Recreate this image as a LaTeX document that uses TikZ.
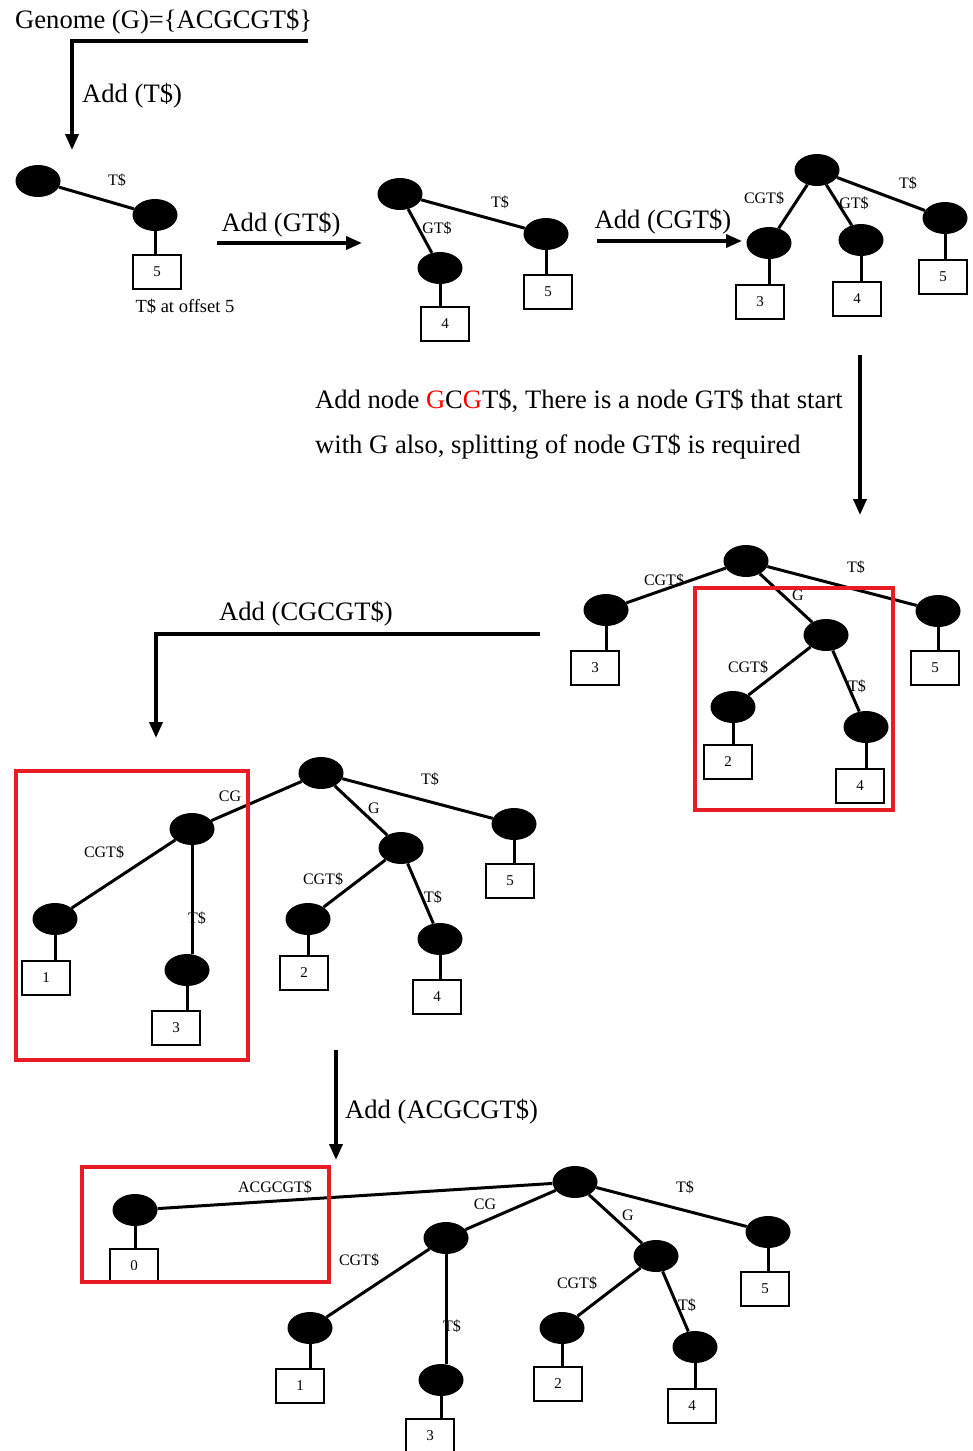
\documentclass[tikz,border=0pt]{standalone}
\usepackage{fontspec}
\setmainfont{Liberation Serif}
\usetikzlibrary{arrows.meta,shapes.geometric}
\definecolor{hlred}{RGB}{232,28,36}
\begin{document}
\begin{tikzpicture}[x=1pt,y=-1pt,
  leaf/.style={ellipse,fill=black,minimum width=45,minimum height=32,inner sep=0},
  idx/.style={draw,line width=1.8,minimum width=48,minimum height=34,inner sep=0,font=\fontsize{15}{16}\selectfont},
  edge/.style={line width=3},
  lbl/.style={font=\fontsize{16}{18}\selectfont,inner sep=0},
  big/.style={font=\fontsize{26.6}{30}\selectfont,inner sep=0},
  flow/.style={line width=3.6,-{Triangle[length=16,width=13]}},
  hl/.style={draw=hlred,line width=3.2}]
\useasboundingbox (0,0) rectangle (972,1451);
\fill[white] (0,0) rectangle (972,1451);
\newcommand{\hang}[2]{\draw[edge] (#1.south) -- (#1.south |- #2.north);}

% title
\node[big,anchor=west] (title) at (15,22) {Genome (G)=\{ACGCGT\$\}};
\coordinate (t1) at (308,41);
\coordinate (t2) at (72,41);
\coordinate (t3) at (72,150);
\draw[flow] (t1) -- (t2) -- (t3);
\node[big,anchor=west] (addT) at (82,96) {Add (T\$)};

% tree 1
\node[leaf] (a0) at (38,181) {};
\node[leaf] (a1) at (155,215) {};
\node[idx] (a1b) at (157,272) {5};
\draw[edge] (a0) -- (a1);
\hang{a1}{a1b}
\node[lbl] at (117,180) {T\$};
\node[lbl,font=\fontsize{18.5}{20}\selectfont] (off) at (185,307) {T\$ at offset 5};

% arrow GT$
\coordinate (g1) at (217,243);
\coordinate (g2) at (362,243);
\draw[flow] (g1) -- (g2);
\node[big] (addGT) at (281,225) {Add (GT\$)};

% tree 2
\node[leaf] (b0) at (400,194) {};
\node[leaf] (b1) at (440,268) {};
\node[leaf] (b2) at (546,234) {};
\node[idx] (b1b) at (445,324) {4};
\node[idx] (b2b) at (548,292) {5};
\draw[edge] (b0) -- (b1);
\draw[edge] (b0) -- (b2);
\hang{b1}{b1b}
\hang{b2}{b2b}
\node[lbl] at (500,202) {T\$};
\node[lbl] at (437,228) {GT\$};

% arrow CGT$
\coordinate (h1) at (597,241);
\coordinate (h2) at (742,241);
\draw[flow] (h1) -- (h2);
\node[big] (addCGT) at (663,222) {Add (CGT\$)};

% tree 3
\node[leaf] (c0) at (817,170) {};
\node[leaf] (c1) at (769,243) {};
\node[leaf] (c2) at (861,240) {};
\node[leaf] (c3) at (945,218) {};
\node[idx] (c1b) at (760,302) {3};
\node[idx] (c2b) at (857,299) {4};
\node[idx] (c3b) at (943,277) {5};
\draw[edge] (c0) -- (c1);
\draw[edge] (c0) -- (c2);
\draw[edge] (c0) -- (c3);
\hang{c1}{c1b}
\hang{c2}{c2b}
\hang{c3}{c3b}
\node[lbl] at (764,198) {CGT\$};
\node[lbl] at (854,203) {GT\$};
\node[lbl] at (908,183) {T\$};

% down arrow + note
\coordinate (v1) at (860,355);
\coordinate (v2) at (860,515);
\draw[flow] (v1) -- (v2);
\node[big,anchor=west] (note1) at (315,401) {Add node \textcolor{red}{G}C\textcolor{red}{G}T\$, There is a node GT\$ that start};
\node[big,anchor=west] (note2) at (315,447) {with G also, splitting of node GT\$ is required};

% tree 4
\node[leaf] (d0) at (746,561) {};
\node[leaf] (d1) at (606,610) {};
\node[leaf] (d2) at (826,635) {};
\node[leaf] (d3) at (938,611) {};
\node[leaf] (d4) at (733,707) {};
\node[leaf] (d5) at (866,727) {};
\node[idx] (d1b) at (595,668) {3};
\node[idx] (d3b) at (935,668) {5};
\node[idx] (d4b) at (728,762) {2};
\node[idx] (d5b) at (860,786) {4};
\draw[edge] (d0) -- (d1);
\draw[edge] (d0) -- (d2);
\draw[edge] (d0) -- (d3);
\draw[edge] (d2) -- (d4);
\draw[edge] (d2) -- (d5);
\hang{d1}{d1b}
\hang{d3}{d3b}
\hang{d4}{d4b}
\hang{d5}{d5b}
\node[lbl] at (664,580) {CGT\$};
\node[lbl] at (798,595) {G};
\node[lbl] at (856,567) {T\$};
\node[lbl] at (748,667) {CGT\$};
\node[lbl] at (857,686) {T\$};
\draw[hl] (695,588) rectangle (893,810);

% arrow CGCGT$
\coordinate (k1) at (540,634);
\coordinate (k2) at (156,634);
\coordinate (k3) at (156,738);
\draw[flow] (k1) -- (k2) -- (k3);
\node[big] (addCGCGT) at (306,614) {Add (CGCGT\$)};

% tree 5
\node[leaf] (e0) at (321,773) {};
\node[leaf] (e1) at (192,829) {};
\node[leaf] (e2) at (401,848) {};
\node[leaf] (e3) at (514,824) {};
\node[leaf] (e4) at (55,919) {};
\node[leaf] (e5) at (187,970) {};
\node[leaf] (e6) at (308,919) {};
\node[leaf] (e7) at (440,939) {};
\node[idx] (e3b) at (510,881) {5};
\node[idx] (e4b) at (46,978) {1};
\node[idx] (e5b) at (176,1028) {3};
\node[idx] (e6b) at (304,973) {2};
\node[idx] (e7b) at (437,997) {4};
\draw[edge] (e0) -- (e1);
\draw[edge] (e0) -- (e2);
\draw[edge] (e0) -- (e3);
\draw[edge] (e1) -- (e4);
\draw[edge] (e1.south) -- (e1.south |- e5.north);
\draw[edge] (e2) -- (e6);
\draw[edge] (e2) -- (e7);
\hang{e3}{e3b}
\hang{e4}{e4b}
\hang{e5}{e5b}
\hang{e6}{e6b}
\hang{e7}{e7b}
\node[lbl] at (230,796) {CG};
\node[lbl] at (374,808) {G};
\node[lbl] at (430,779) {T\$};
\node[lbl] at (104,852) {CGT\$};
\node[lbl] at (197,918) {T\$};
\node[lbl] at (323,879) {CGT\$};
\node[lbl] at (433,897) {T\$};
\draw[hl] (16,771) rectangle (248,1060);

% arrow ACGCGT$
\coordinate (m1) at (336,1050);
\coordinate (m2) at (336,1160);
\draw[flow] (m1) -- (m2);
\node[big,anchor=west] (addA) at (345,1112) {Add (ACGCGT\$)};

% tree 6
\node[leaf] (f0) at (575,1182) {};
\node[leaf] (f1) at (135,1210) {};
\node[leaf] (f2) at (446,1238) {};
\node[leaf] (f3) at (656,1256) {};
\node[leaf] (f4) at (768,1232) {};
\node[leaf] (f5) at (310,1328) {};
\node[leaf] (f6) at (441,1380) {};
\node[leaf] (f7) at (562,1328) {};
\node[leaf] (f8) at (695,1347) {};
\node[idx] (f1b) at (134,1266) {0};
\node[idx] (f4b) at (765,1289) {5};
\node[idx] (f5b) at (300,1386) {1};
\node[idx] (f6b) at (430,1436) {3};
\node[idx] (f7b) at (558,1384) {2};
\node[idx] (f8b) at (692,1406) {4};
\draw[edge] (f0) -- (f1);
\draw[edge] (f0) -- (f2);
\draw[edge] (f0) -- (f3);
\draw[edge] (f0) -- (f4);
\draw[edge] (f2) -- (f5);
\draw[edge] (f2.south) -- (f2.south |- f6.north);
\draw[edge] (f3) -- (f7);
\draw[edge] (f3) -- (f8);
\hang{f1}{f1b}
\hang{f4}{f4b}
\hang{f5}{f5b}
\hang{f6}{f6b}
\hang{f7}{f7b}
\hang{f8}{f8b}
\node[lbl] at (275,1187) {ACGCGT\$};
\node[lbl] at (485,1204) {CG};
\node[lbl] at (628,1215) {G};
\node[lbl] at (685,1187) {T\$};
\node[lbl] at (359,1260) {CGT\$};
\node[lbl] at (452,1326) {T\$};
\node[lbl] at (577,1283) {CGT\$};
\node[lbl] at (687,1305) {T\$};
\draw[hl] (82,1167) rectangle (329,1282);
\end{tikzpicture}
\end{document}
